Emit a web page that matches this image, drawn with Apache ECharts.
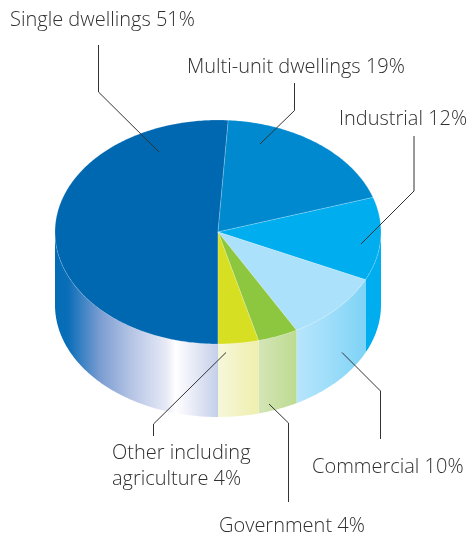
<!DOCTYPE html>
<html>
<head>
<meta charset="utf-8">
<style>html,body{margin:0;padding:0;background:#fff}#chart{width:468px;height:533px}</style>
<script src="https://cdn.jsdelivr.net/npm/echarts@6/dist/echarts.min.js"></script>
</head>
<body>
<div id="chart"></div>
<script>
// Share of the total by sector, clockwise from the bottom of the pie.
const categories = ['Single dwellings', 'Multi-unit dwellings', 'Industrial', 'Commercial', 'Government', 'Other including\nagriculture'];
const shares = [51, 19, 12, 10, 4, 4];

const topColors = ['#0067b1', '#0089cf', '#00aeef', '#abe1fa', '#8dc63f', '#d7df23'];
// Side-wall shading: offset within the visible part of the wall, then colour.
const wallStops = [
  [[0, '#026cb5'], [0.08, '#0a6eb8'], [0.28, '#7c9dd2'], [0.46, '#b3c3e4'], [0.68, '#e6e9f6'], [0.74, '#ffffff'], [0.8, '#f3f4fb'], [1, '#c4cfe9']],
  [[0, '#0089cf'], [1, '#0089cf']],
  [[0, '#00aeef'], [1, '#00aeef']],
  [[0, '#b7e5fc'], [0.45, '#a0def9'], [1, '#7ed3f7']],
  [[0, '#d4e5b7'], [1, '#bddb90']],
  [[0, '#f6f7da'], [1, '#efefae']]
];

// Callout label anchors and their leader polylines, in pixels.
const callouts = [
  { x: 10, y: 20, leader: [[98.5, 45], [98.5, 92], [159, 152]] },
  { x: 187, y: 67, leader: [[294.5, 83], [294.5, 110.5], [260, 144]] },
  { x: 339, y: 119, leader: [[414, 136], [414, 191], [361, 244]] },
  { x: 312, y: 467, leader: [[342, 352.5], [380.5, 391], [380.5, 439]] },
  { x: 219, y: 526, leader: [[269, 404], [288.5, 423], [288.5, 502]] },
  { x: 112, y: 466, leader: [[226, 352.5], [153.5, 424], [153.5, 436]] }
];

const total = shares.reduce((a, b) => a + b, 0);
// Slice start angles in degrees, clockwise from the top, kept within 0..360.
const startAngles = [];
shares.reduce((acc, v, i) => { startAngles[i] = acc % 360; return acc + v / total * 360; }, 180);

// Wall height expressed in units of the top face's vertical radius.
const wallDepth = 73 / 112;
const ARC_STEP = 0.75;

function rim(api, from, to, drop) {
  const pts = [];
  const n = Math.max(1, Math.ceil(Math.abs(to - from) / ARC_STEP));
  for (let i = 0; i <= n; i++) {
    const a = (from + (to - from) * i / n) * Math.PI / 180;
    pts.push(api.coord([Math.sin(a), Math.cos(a) - drop]));
  }
  return pts;
}

function renderWall(params, api) {
  const i = params.dataIndex;
  const start = startAngles[i];
  const end = start + api.value(1) / total * 360;
  // Only the front half of the cylinder faces the viewer.
  const from = Math.max(start, 90);
  const to = Math.min(end, 270);
  if (to <= from) return null;
  const pts = rim(api, from, to, 0).concat(rim(api, to, from, wallDepth));
  const stops = wallStops[i].map(s => ({ offset: s[0], color: s[1] }));
  return {
    type: 'polygon',
    shape: { points: pts },
    style: { fill: new echarts.graphic.LinearGradient(0, 0, 1, 0, stops), stroke: null }
  };
}

function renderTop(params, api) {
  const i = params.dataIndex;
  const start = startAngles[i];
  const end = start + api.value(1) / total * 360;
  const pts = [api.coord([0, 0])].concat(rim(api, start, end, 0));
  return {
    type: 'polygon',
    shape: { points: pts },
    style: { fill: topColors[i], stroke: 'rgba(255,255,255,0.4)', lineWidth: 0.5 }
  };
}

const textStyle = { font: '300 20px "Open Sans", Lato, sans-serif', fill: '#303030', lineHeight: 26 };
const graphics = [];
callouts.forEach((c, i) => {
  graphics.push({
    type: 'polyline', silent: true, z: 10,
    shape: { points: c.leader },
    style: { stroke: '#333333', lineWidth: 1, fill: null }
  });
  graphics.push({
    type: 'text', silent: true, x: c.x, y: c.y, z: 10,
    style: Object.assign({ text: categories[i] + ' ' + shares[i] + '%', verticalAlign: 'middle', align: 'left' }, textStyle)
  });
});

const chart = echarts.init(document.getElementById('chart'), null, { renderer: 'canvas' });
chart.setOption({
  animation: false,
  backgroundColor: '#ffffff',
  grid: { left: 55, top: 120, width: 326, height: 297 },
  xAxis: { type: 'value', min: -1, max: 1, show: false },
  yAxis: { type: 'value', min: -1 - wallDepth, max: 1, show: false },
  series: [
    { type: 'custom', silent: true, clip: false, renderItem: renderWall, data: shares, z: 1 },
    { type: 'custom', silent: true, clip: false, renderItem: renderTop, data: shares, z: 2 }
  ],
  graphic: { elements: graphics }
});
</script>
</body>
</html>
